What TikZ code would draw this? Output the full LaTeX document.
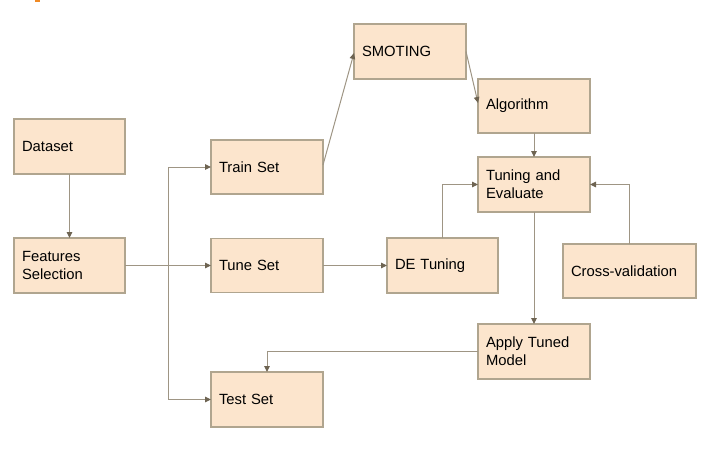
\documentclass[tikz,border=0pt]{standalone}
\usepackage{fontspec}
\setmainfont{Liberation Sans}
\usetikzlibrary{arrows.meta}
\definecolor{boxfill}{HTML}{FCE5CD}
\definecolor{boxline}{HTML}{B0A58F}
\definecolor{wire}{HTML}{9E9584}
\definecolor{tipcol}{HTML}{6E6452}
\definecolor{orangemark}{HTML}{F08A24}
\begin{document}
\begin{tikzpicture}[x=1pt,y=-1pt,
  box/.style 2 args={draw=boxline,line width=1.1pt,fill=boxfill,rectangle,
    inner xsep=8pt,inner ysep=0pt,outer sep=0pt,
    text width=#1-16pt,minimum height=#2,align=left,
    font=\fontsize{14.8}{18}\selectfont},
  conn/.style={draw=wire,line width=1pt,-{Triangle[length=6pt,width=5.5pt,color=tipcol]}},
  plain/.style={draw=wire,line width=1pt}]
\useasboundingbox (0,0) rectangle (712,452);
\fill[orangemark] (35,0) rectangle (40,2);
\node[box={111pt}{55pt}] (ds) at (69.5,146.5) {Dataset};
\node[box={111pt}{55pt}] (fs) at (69.5,265.5) {Features\\Selection};
\node[box={112pt}{54pt}] (tr) at (267,167) {Train Set};
\node[box={112pt}{54pt}] (tu) at (267,265.5) {Tune Set};
\node[box={112pt}{55pt}] (te) at (267,399.5) {Test Set};
\node[box={112pt}{55pt}] (sm) at (410,51.5) {SMOTING};
\node[box={112pt}{54pt}] (al) at (534,106) {Algorithm};
\node[box={112pt}{55pt}] (tv) at (534,184.5) {Tuning and\\Evaluate};
\node[box={111pt}{55pt}] (de) at (442.5,265.5) {DE Tuning};
\node[box={133pt}{54pt}] (cv) at (629.5,271) {Cross-validation};
\node[box={112pt}{55pt}] (ap) at (534,351.5) {Apply Tuned\\Model};
\coordinate (j) at (168,265.5);
\draw[plain] (fs.east) -- (j);
\draw[conn] (ds.south) -- (fs.north);
\draw[conn] (j) |- (tr.west);
\draw[conn] (j) -- (tu.west);
\draw[conn] (j) |- (te.west);
\draw[conn] ([yshift=2pt]tr.east) -- ([yshift=-1.5pt]sm.west);
\draw[conn] (sm.east) -- ([yshift=3pt]al.west);
\draw[conn] (al.south) -- (tv.north);
\draw[conn] (tu.east) -- (de.west);
\draw[conn] (de.north) |- (tv.west);
\draw[conn] (cv.north) |- (tv.east);
\draw[conn] (tv.south) -- (ap.north);
\draw[conn] (ap.west) -| (te.north);
\end{tikzpicture}
\end{document}
